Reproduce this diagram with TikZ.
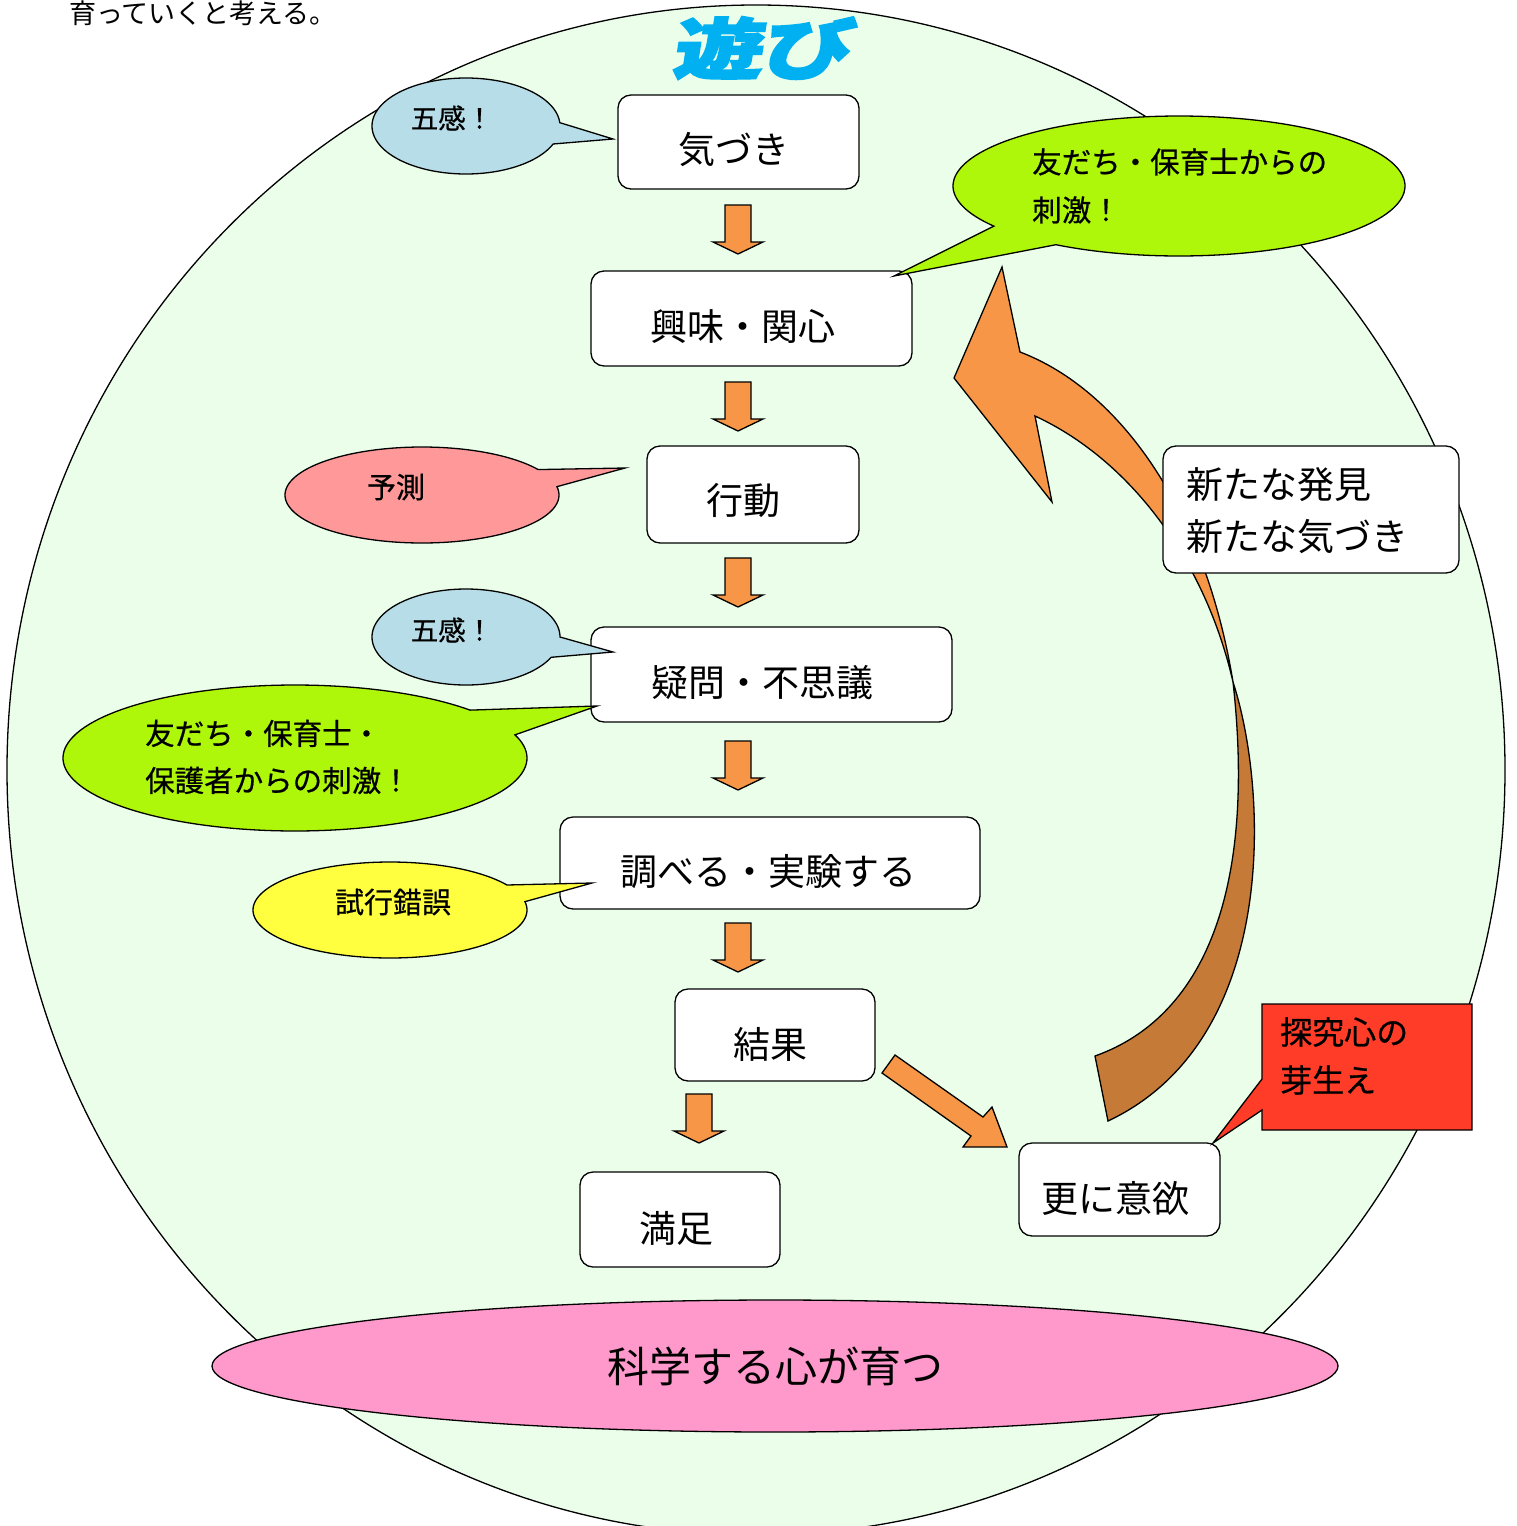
\documentclass[tikz,border=0pt]{standalone}
\usepackage{fontspec}
\newfontfamily\jp{Noto Sans CJK JP}
\newfontfamily\jpm[FakeBold=0.6]{Noto Sans CJK JP}
\newfontfamily\jptitle[FakeSlant=0.12, BoldFeatures={FakeBold=3}]{Noto Sans CJK JP}
\usetikzlibrary{shapes.geometric}
\definecolor{bgGreen}{RGB}{234,254,234}
\definecolor{arrOrange}{RGB}{247,150,70}
\definecolor{arrBrown}{RGB}{197,122,56}
\definecolor{lblue}{RGB}{183,221,232}
\definecolor{lime}{RGB}{175,247,10}
\definecolor{salmon}{RGB}{255,153,153}
\definecolor{lyellow}{RGB}{255,255,64}
\definecolor{lred}{RGB}{255,60,39}
\definecolor{lpink}{RGB}{255,153,204}
\definecolor{tcyan}{RGB}{0,176,240}
\newcommand\fz[2]{\fontsize{#1pt}{#2pt}\selectfont}
\newcommand\bubble[9]{%
  \filldraw[fill=#9, line width=1.3pt, line join=miter]
    plot[domain=#5:#6, samples=150, variable=\t] ({#1+#3*cos(\t)},{#2+#4*sin(\t)})
    -- (#7,#8) -- cycle;}
\newcommand\dnarrow[2]{%
  \filldraw[blk] (#1-13,#2) -- (#1+13,#2) -- (#1+13,#2+37) -- (#1+25,#2+37)
    -- (#1,#2+49) -- (#1-25,#2+37) -- (#1-13,#2+37) -- cycle;}
\begin{document}
\begin{tikzpicture}[x=1pt,y=-1pt,
  box/.style={draw=black, line width=1.3pt, fill=white, rounded corners=13pt, inner sep=0pt},
  lbl/.style={font=\jp, inner sep=0pt, text=black},
  blk/.style={draw=black, line width=1.3pt, fill=arrOrange, line join=miter}]
\useasboundingbox (0,0) rectangle (1517,1526);
\clip (0,0) rectangle (1517,1526);
\fill[white] (0,0) rectangle (1517,1526);
% big circle
\filldraw[fill=bgGreen, line width=1.3pt] (756,770) ellipse [x radius=749, y radius=765];
% big curved arrow
\filldraw[fill=arrBrown, line width=1.3pt] (1233,682) .. controls (1268,790) and (1280,1040) .. (1108,1121)
  -- (1095,1056) .. controls (1210,1015) and (1255,880) .. (1233,682) -- cycle;
\filldraw[fill=arrOrange, line width=1.3pt, line join=miter] (1002,267) -- (1020,352)
  .. controls (1120,390) and (1205,510) .. (1233,682)
  .. controls (1205,560) and (1130,460) .. (1035,416) -- (1052,502) -- (954,378) -- cycle;
% down arrows
\dnarrow{738}{205}
\dnarrow{738}{382}
\dnarrow{738}{558}
\dnarrow{738}{741}
\dnarrow{738}{923}
\dnarrow{699}{1094}
% diagonal arrow
\filldraw[blk] (895,1055) -- (983,1117) -- (992,1107) -- (1007,1147) -- (963,1147) -- (971,1136) -- (882,1073) -- cycle;
% boxes
\node[box, minimum width=241pt, minimum height=94pt] (kizuki) at (738.5,142) {};
\node[lbl, font=\jp\fz{37}{44}] (tkizuki) at (734,150) {気づき};
\node[box, minimum width=321pt, minimum height=95pt] (kyomi) at (751.5,318.5) {};
\node[lbl, font=\jp\fz{37}{44}] (tkyomi) at (743,327) {興味・関心};
\node[box, minimum width=212pt, minimum height=97pt] (kodo) at (753,494.5) {};
\node[lbl, font=\jp\fz{37}{44}] (tkodo) at (743,501) {行動};
\node[box, minimum width=361pt, minimum height=95pt] (gimon) at (771.5,674.5) {};
\node[lbl, font=\jp\fz{37}{44}] (tgimon) at (762,683) {疑問・不思議};
\node[box, minimum width=420pt, minimum height=92pt] (shiraberu) at (770,863) {};
\node[lbl, font=\jp\fz{37}{44}] (tshiraberu) at (768,872) {調べる・実験する};
\node[box, minimum width=200pt, minimum height=92pt] (kekka) at (775,1035) {};
\node[lbl, font=\jp\fz{37}{44}] (tkekka) at (770,1044) {結果};
\node[box, minimum width=200pt, minimum height=95pt] (manzoku) at (680,1219.5) {};
\node[lbl, font=\jp\fz{37}{44}] (tmanzoku) at (676,1228) {満足};
\node[box, minimum width=201pt, minimum height=93pt] (iyoku) at (1119.5,1189.5) {};
\node[lbl, font=\jp\fz{37}{44}] (tiyoku) at (1115,1198) {更に意欲};
\node[box, minimum width=296pt, minimum height=127pt] (arata) at (1311,509.5) {};
\node[lbl, font=\jp\fz{37}{52}, align=left, anchor=west] (tarata) at (1186,511) {新たな発見\\新たな気づき};
% callouts
\bubble{466}{126}{94}{48}{22}{356}{613}{139}{lblue}
\node[lbl, font=\jpm\fz{27.5}{30}] (gokan1) at (452,118) {五感！};
\bubble{1179}{186}{226}{70}{145}{483}{894}{276}{lime}
\node[lbl, font=\jpm\fz{29.5}{48}, align=left, anchor=west] (shigeki1) at (1032,186) {友だち・保育士からの\\刺激！};
\bubble{422}{495}{137}{48}{350}{688}{625}{468}{salmon}
\node[lbl, font=\jpm\fz{29}{32}] (yosoku) at (396,487) {予測};
\bubble{466}{637}{94}{48}{25}{360}{613}{652}{lblue}
\node[lbl, font=\jpm\fz{27.5}{30}] (gokan2) at (452,630) {五感！};
\bubble{295}{758}{232}{73}{341.5}{679}{597}{706}{lime}
\node[lbl, font=\jpm\fz{29.5}{47}, align=left, anchor=west] (shigeki2) at (145,757) {友だち・保育士・\\保護者からの刺激！};
\bubble{390}{910}{137}{48}{350}{688.6}{592}{883}{lyellow}
\node[lbl, font=\jpm\fz{29}{32}] (shiko) at (393,902) {試行錯誤};
\filldraw[fill=lred, line width=1.3pt, line join=miter] (1262,1004) -- (1472,1004) -- (1472,1130) -- (1262,1130)
  -- (1262,1110) -- (1213,1143) -- (1262,1079) -- cycle;
\node[lbl, font=\jpm\fz{32}{48}, align=left, anchor=west] (tankyu) at (1280,1056) {探究心の\\芽生え};
% bottom ellipse
\node[draw=black, line width=1.3pt, fill=lpink, ellipse, minimum width=1126pt, minimum height=132pt, inner sep=0pt,
  font=\jp\fz{42}{48}] (kagaku) at (775,1366) {科学する心が育つ};
% title
\node[lbl, font=\jptitle\bfseries\fz{66}{70}, text=tcyan, xscale=1.35] (asobi) at (761,48) {遊び};
% top text
\node[lbl, font=\jp\fz{27}{30}] (toptext) at (203,13) {育っていくと考える。};
\end{tikzpicture}
\end{document}
